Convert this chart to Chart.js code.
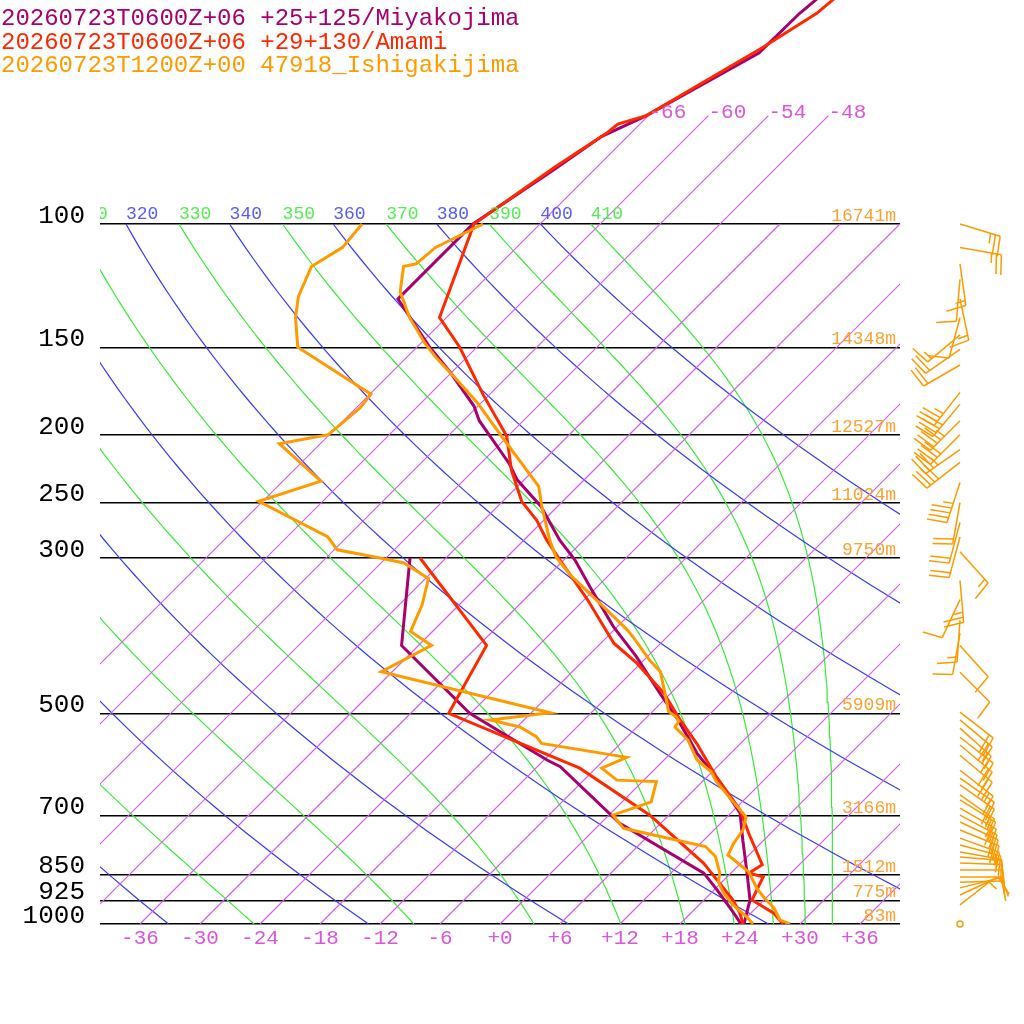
<!DOCTYPE html>
<html>
<head>
<meta charset="utf-8">
<script src="https://cdn.jsdelivr.net/npm/chart.js@4.4.1/dist/chart.umd.min.js"></script>
<style>
  html, body { margin: 0; padding: 0; background: #fff; }
  #wrap { width: 1024px; height: 1024px; }
</style>
</head>
<body>
<div id="wrap"><canvas id="skewt" width="1024" height="1024"></canvas></div>
<script>
// pressure levels drawn as horizontal lines, with their heights
const presTicks = [1000, 925, 850, 700, 500, 300, 250, 200, 150, 100];
const heightLabels = ['83m', '775m', '1512m', '3166m', '5909m', '9750m', '11024m', '12527m', '14348m', '16741m'];
const tempTicks = [-36, -30, -24, -18, -12, -6, 0, 6, 12, 18, 24, 30, 36];

// background lines of the diagram
const isotherms = [-66, -60, -54, -48, -42, -36, -30, -24, -18, -12, -6, 0, 6, 12, 18, 24, 30, 36];
const dryThetas = [240, 260, 280, 300, 320, 340, 360, 380, 400];
const moistThetas = [250, 270, 290, 310, 330, 350, 370, 390, 410];

const titles = [
  '20260723T0600Z+06 +25+125/Miyakojima',
  '20260723T0600Z+06 +29+130/Amami',
  '20260723T1200Z+00 47918_Ishigakijima'
];

// Miyakojima (model) temperature / dew point
const miyaP  = [1000, 924, 843, 759, 694, 619, 570, 511, 468, 415, 376, 330, 302, 283, 253, 232, 220, 191, 182, 163, 150, 128, 100, 84, 75, 70, 57, 50, 46];
const miyaT  = [24.4, 22.6, 19.5, 15.9, 12.9, 7.1, 2.6, -2.6, -7.1, -13.1, -18.4, -24.7, -28.9, -32.4, -37.7, -42.7, -45.1, -52.4, -54.4, -60.1, -64.7, -72.7, -72.7, -70.1, -68.6, -66.2, -61.2, -61.1, -60.6];
const miyaTdP = [1000, 965, 894, 846, 718, 596, 583, 500, 400, 300];
const miyaTd  = [24.1, 22.3, 18.3, 15.3, 1.9, -9.7, -11.7, -24.1, -37.7, -45.6];

// Amami (model) temperature / dew point
const amamiP  = [1000, 965, 924, 856, 846, 823, 742, 687, 616, 552, 511, 468, 424, 397, 344, 302, 283, 265, 249, 225, 201, 175, 150, 136, 100, 83, 74, 72, 70, 56, 50, 46];
const amamiT  = [28.3, 26.3, 22.8, 21.6, 19.8, 20.3, 15.8, 12.6, 6.9, 1.6, -2.4, -6.7, -12.4, -16.7, -23.7, -30.4, -33.7, -36.7, -40.1, -44.2, -48.1, -54.7, -61.7, -66.7, -72.6, -70.2, -68.4, -68.2, -66.2, -61.4, -59.4, -58.9];
const amamiTdP = [1000, 965, 924, 899, 819, 699, 599, 583, 500, 400, 300];
const amamiTd  = [24.3, 22.9, 20.9, 19.4, 14.3, 4.1, -7.6, -10.4, -26.2, -29.2, -44.6];

// Ishigakijima (sounding) temperature / dew point
const ishiP  = [1000, 987, 949, 914, 889, 843, 797, 767, 734, 703, 691, 626, 606, 583, 570, 546, 523, 513, 506, 497, 473, 436, 420, 389, 380, 352, 341, 316, 299, 283, 253, 237, 203, 180, 167, 155, 148, 136, 125, 115, 114, 108, 100];
const ishiT  = [29.0, 27.6, 25.8, 23.6, 22.1, 19.7, 15.9, 15.3, 14.9, 13.9, 12.9, 7.4, 5.9, 3.3, 2.3, 0.4, -2.2, -2.4, -3.1, -4.4, -6.2, -9.2, -11.4, -15.4, -16.7, -21.4, -23.4, -28.1, -31.1, -33.4, -37.6, -39.9, -48.1, -54.4, -58.7, -63.1, -65.6, -69.7, -73.2, -75.4, -74.4, -74.1, -71.7];
const ishiTdP = [1000, 976, 939, 904, 870, 846, 801, 775, 730, 699, 669, 626, 623, 599, 578, 552, 540, 523, 511, 499, 436, 400, 382, 350, 321, 305, 300, 292, 280, 249, 233, 206, 200, 183, 175, 150, 136, 127, 115, 108, 100];
const ishiTd  = [25.3, 23.9, 21.4, 19.3, 17.6, 16.9, 14.8, 12.8, 2.8, 0.4, 2.9, 1.4, -2.7, -5.4, -4.0, -13.9, -15.1, -17.7, -21.4, -16.1, -37.1, -34.7, -38.2, -39.7, -41.7, -45.7, -48.6, -53.7, -55.9, -66.4, -62.2, -70.1, -66.1, -65.6, -65.9, -77.9, -81.1, -82.9, -84.6, -83.4, -83.8];

// Ishigakijima winds (direction deg, speed kt)
const windP   = [100, 108, 114, 120, 128, 136, 144, 151, 159, 174, 181, 191, 200, 210, 219, 234, 250, 267, 280, 294, 323, 344, 368, 384, 400, 437, 498, 511, 525, 541, 555, 574, 603, 619, 633, 654, 665, 683, 699, 715, 734, 754, 771, 789, 802, 818, 837, 857, 872, 888, 909, 939, 1000];
const windDir = [107, 100, 172, 185, 168, 195, 230, 235, 240, 218, 220, 225, 225, 235, 232, 198, 190, 195, 195, 138, 175, 205, 184, 190, 138, 135, 128, 130, 132, 128, 130, 130, 128, 125, 125, 125, 122, 120, 118, 115, 112, 110, 105, 100, 95, 92, 90, 90, 88, 76, 65, 52, 0];
const windSpd = [25, 25, 15, 10, 15, 10, 15, 20, 20, 35, 40, 45, 40, 35, 40, 45, 20, 20, 20, 15, 25, 10, 15, 10, 10, 10, 20, 20, 15, 15, 20, 20, 15, 15, 20, 15, 15, 20, 15, 20, 20, 15, 15, 15, 10, 10, 10, 10, 10, 10, 10, 5, 0];

const colMiya = '#a8006e';
const colAmami = '#ff2800';
const colIshi = '#ff9a00';
const colIso = '#d55ced';
const colDry = 'rgb(56, 56, 255)';
const colMoist = 'rgb(58, 234, 58)';
const monoFont = "'Liberation Mono', 'DejaVu Sans Mono', monospace";

// skewed x coordinate: 45 degree isotherms (10 px per degC, 700 px per decade)
function skewX(t, p) { return t + 70 * Math.log10(1000 / p); }

function profile(P, T) { return P.map((p, i) => ({ x: skewX(T[i], p), y: p })); }

// saturated equivalent potential temperature (Bolton)
function thetaE(tk, p) {
  const tc = tk - 273.15;
  const es = 6.112 * Math.exp(17.67 * tc / (tc + 243.5));
  if (es > p * 0.5) return 1e9;
  const r = 622 * es / (p - es);
  return tk * Math.pow(1000 / p, 0.2854 * (1 - 0.00028 * r)) *
    Math.exp((3.376 / tk - 0.00254) * r * (1 + 0.00081 * r));
}
function moistT(th, p) {
  let lo = 120, hi = 340;
  for (let k = 0; k < 60; k++) {
    const mid = (lo + hi) / 2;
    if (thetaE(mid, p) > th) hi = mid; else lo = mid;
  }
  return (lo + hi) / 2 - 273.15;
}

const adiaPres = [];
for (let k = 0; k <= 60; k++) adiaPres.push(1000 * Math.pow(10, -k / 60));

const bgSets = [];
isotherms.forEach(t => {
  const top = t <= -48 ? 70 : 100;
  bgSets.push({ data: [{ x: skewX(t, 1000), y: 1000 }, { x: skewX(t, top), y: top }],
    borderColor: colIso, backgroundColor: colIso, borderWidth: 1.15, order: 10 });
});
dryThetas.forEach(th => {
  bgSets.push({ data: adiaPres.map(p => ({ x: skewX(th * Math.pow(p / 1000, 0.2857) - 273.15, p), y: p })),
    borderColor: colDry, backgroundColor: colDry, borderWidth: 1.2, order: 10 });
});
moistThetas.forEach(th => {
  bgSets.push({ data: adiaPres.map(p => ({ x: skewX(moistT(th, p), p), y: p })),
    borderColor: colMoist, backgroundColor: colMoist, borderWidth: 1.2, order: 10 });
});

const profSets = [
  { data: profile(miyaP, miyaT), borderColor: colMiya, order: 3 },
  { data: profile(miyaTdP, miyaTd), borderColor: colMiya, order: 3 },
  { data: profile(amamiP, amamiT), borderColor: colAmami, order: 2 },
  { data: profile(amamiTdP, amamiTd), borderColor: colAmami, order: 2 },
  { data: profile(ishiP, ishiT), borderColor: colIshi, order: 1 },
  { data: profile(ishiTdP, ishiTd), borderColor: colIshi, order: 1 }
];
profSets.forEach(d => { d.borderWidth = 3; d.backgroundColor = d.borderColor; });

function drawBarb(ctx, x, y, dir, spd) {
  if (spd < 2.5) {
    ctx.beginPath(); ctx.arc(x, y, 3, 0, Math.PI * 2); ctx.stroke();
    return;
  }
  const a = dir * Math.PI / 180;
  const ux = Math.sin(a), uy = -Math.cos(a);
  const px = -uy, py = ux;
  const L = 42, F = 20, S = 5;
  const tx = x + ux * L, ty = y + uy * L;
  ctx.beginPath(); ctx.moveTo(x, y); ctx.lineTo(tx, ty); ctx.stroke();
  let s = Math.round(spd / 5) * 5;
  let pos = 0;
  while (s >= 50) {
    const bx = tx - ux * pos, by = ty - uy * pos;
    ctx.beginPath();
    ctx.moveTo(bx, by);
    ctx.lineTo(bx + px * F, by + py * F);
    ctx.lineTo(bx - ux * S * 1.6, by - uy * S * 1.6);
    ctx.closePath(); ctx.fill();
    pos += S * 2; s -= 50;
  }
  while (s >= 10) {
    const bx = tx - ux * pos, by = ty - uy * pos;
    ctx.beginPath(); ctx.moveTo(bx, by);
    ctx.lineTo(bx + px * F + ux * 3, by + py * F + uy * 3); ctx.stroke();
    pos += S; s -= 10;
  }
  if (s >= 5) {
    if (pos === 0) pos = S;
    const bx = tx - ux * pos, by = ty - uy * pos;
    ctx.beginPath(); ctx.moveTo(bx, by);
    ctx.lineTo(bx + px * F / 2 + ux * 1.5, by + py * F / 2 + uy * 1.5); ctx.stroke();
  }
}

const skewDecor = {
  id: 'skewDecor',
  afterDatasetsDraw(chart) {
    const ctx = chart.ctx, xs = chart.scales.x, ys = chart.scales.y, area = chart.chartArea;
    ctx.save();
    // adiabat labels on the 100 hPa line
    ctx.save();
    ctx.beginPath(); ctx.rect(area.left, area.top, area.right - area.left, area.bottom - area.top); ctx.clip();
    ctx.font = '18px ' + monoFont; ctx.textAlign = 'left'; ctx.textBaseline = 'alphabetic';
    const y100 = ys.getPixelForValue(100) - 5;
    dryThetas.forEach(th => {
      ctx.fillStyle = '#5a5aff';
      ctx.fillText(String(th), xs.getPixelForValue(skewX(th * Math.pow(0.1, 0.2857) - 273.15, 100)), y100);
    });
    moistThetas.forEach(th => {
      ctx.fillStyle = '#55ee55';
      ctx.fillText(String(th), xs.getPixelForValue(skewX(moistT(th, 100), 100)), y100);
    });
    ctx.restore();
    // isotherm labels at the top ends
    ctx.font = '21px ' + monoFont; ctx.fillStyle = '#dd55dd'; ctx.textAlign = 'left';
    isotherms.filter(t => t <= -48).forEach(t => {
      ctx.fillText(String(t), xs.getPixelForValue(skewX(t, 70)), ys.getPixelForValue(70) + 2);
    });
    // heights of the pressure levels
    ctx.font = '18px ' + monoFont; ctx.fillStyle = '#ffa030'; ctx.textAlign = 'right';
    presTicks.forEach((p, i) => {
      ctx.fillText(heightLabels[i], area.right - 4, ys.getPixelForValue(p) - 3);
    });
    // titles
    ctx.font = '24px ' + monoFont; ctx.textAlign = 'left';
    [colMiya, colAmami, colIshi].forEach((c, i) => {
      ctx.fillStyle = c;
      ctx.fillText(titles[i], 1, 25 + i * 23.5);
    });
    // wind barbs
    ctx.strokeStyle = colIshi; ctx.fillStyle = colIshi; ctx.lineWidth = 1.5;
    windP.forEach((p, i) => {
      drawBarb(ctx, area.right + 60, ys.getPixelForValue(p), windDir[i], windSpd[i]);
    });
    ctx.restore();
  }
};

new Chart(document.getElementById('skewt').getContext('2d'), {
  type: 'line',
  data: { datasets: profSets.concat(bgSets) },
  options: {
    responsive: false,
    animation: false,
    devicePixelRatio: 1,
    layout: { padding: { left: 0, right: 124, top: 0, bottom: 0 } },
    elements: { point: { radius: 0 }, line: { tension: 0, fill: false } },
    plugins: { legend: { display: false }, tooltip: { enabled: false }, colors: { enabled: false } },
    scales: {
      x: {
        type: 'linear', min: -40, max: 40, bounds: 'data',
        grid: { display: false, drawTicks: false }, border: { display: false },
        afterBuildTicks: s => { s.ticks = tempTicks.map(v => ({ value: v })); },
        afterFit: s => { s.height = 100; s.paddingLeft = 0; s.paddingRight = 0; },
        ticks: {
          autoSkip: false, maxRotation: 0, padding: 2, color: '#dd55dd',
          font: { family: monoFont, size: 21 },
          callback: v => (v >= 0 ? '+' : '') + v
        }
      },
      y: {
        type: 'logarithmic', reverse: true, bounds: 'data',
        min: 1000 / Math.pow(10, 924 / 700), max: 1000,
        grid: { color: '#000', lineWidth: 1.5, drawTicks: false },
        border: { display: false },
        afterBuildTicks: s => { s.ticks = presTicks.map(v => ({ value: v })); },
        afterFit: s => { s.width = 100; s.paddingTop = 0; s.paddingBottom = 0; },
        ticks: {
          autoSkip: false, padding: 15, labelOffset: -8, color: '#000',
          font: { family: monoFont, size: 26 },
          callback: v => String(v)
        }
      }
    }
  },
  plugins: [skewDecor]
});
</script>
</body>
</html>
